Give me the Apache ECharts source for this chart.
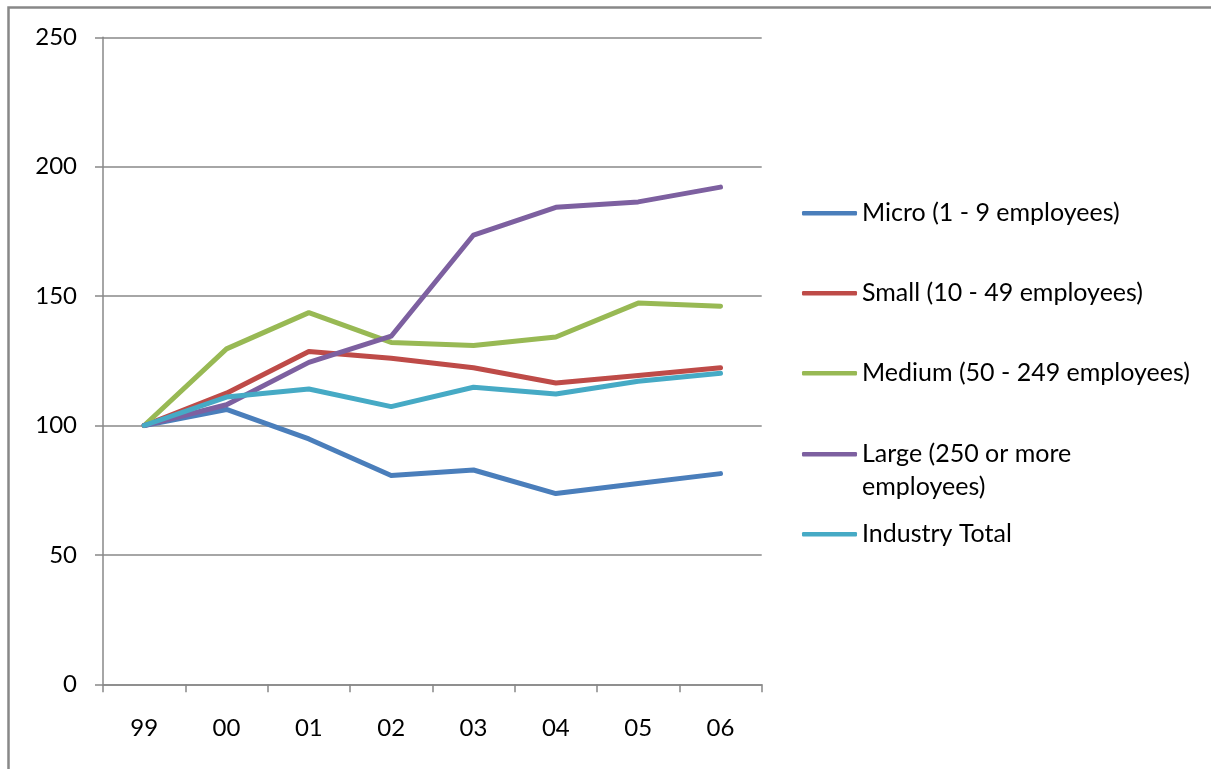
<!DOCTYPE html>
<html>
<head>
<meta charset="utf-8">
<script src="https://cdn.jsdelivr.net/npm/echarts@6/dist/echarts.min.js"></script>
<style>
  html, body { margin: 0; padding: 0; background: #fff; }
  #chart { width: 1211px; height: 769px; }
</style>
</head>
<body>
<div id="chart"></div>
<script>
// Index of activity by enterprise size band (1999 = 100)
const years = ['99', '00', '01', '02', '03', '04', '05', '06'];

const micro    = [100, 106.2, 94.8, 80.7, 82.8, 73.7, 77.6, 81.4];
const small    = [100, 112.5, 128.6, 126.0, 122.3, 116.4, 119.3, 122.3];
const medium   = [100, 129.6, 143.6, 132.1, 130.9, 134.2, 147.3, 146.1];
const large    = [100, 108.0, 124.4, 134.5, 173.6, 184.3, 186.4, 192.1];
const industry = [100, 111.0, 114.1, 107.3, 114.8, 112.2, 117.1, 120.2];

const seriesNames = [
  'Micro (1 - 9 employees)',
  'Small (10 - 49 employees)',
  'Medium (50 - 249 employees)',
  'Large (250 or more employees)',
  'Industry Total'
];
const seriesValues = [micro, small, medium, large, industry];
const colors = ['#4A7EBB', '#BE4B48', '#98B954', '#7D60A0', '#46AAC5'];

const FONT = 'Lato';
const AXIS_FONT_SIZE = 24;
const LEGEND_FONT_SIZE = 25;
const AXIS_GREY = '#888888';

// one legend block per series so each row sits at its own height;
// the wrapped label gets a leading blank line so its first line stays level with the key
const legendCenters = [213.3, 293.3, 373.3, 454.3, 534.3];
const legends = seriesNames.map((name, i) => {
  const isLarge = i === 3;
  return {
    data: [name],
    left: 802,
    top: legendCenters[i] - (isLarge ? 49.5 : 16.5),
    orient: 'vertical',
    padding: 0,
    icon: 'roundRect',
    itemWidth: 55,
    itemHeight: 4.5,
    itemGap: 0,
    selectedMode: false,
    formatter: isLarge ? (n) => '\n' + n.replace('more ', 'more\n') : '{name}',
    textStyle: {
      fontFamily: FONT,
      fontSize: LEGEND_FONT_SIZE,
      color: '#000',
      lineHeight: 33
    }
  };
});

const chart = echarts.init(document.getElementById('chart'), null, { renderer: 'canvas' });

chart.setOption({
  animation: false,
  backgroundColor: '#fff',
  color: colors,
  graphic: [{
    type: 'rect',
    shape: { x: 8.5, y: 7.5, width: 1400, height: 1000 },
    style: { fill: 'none', stroke: AXIS_GREY, lineWidth: 2.5 },
    silent: true,
    z: -10
  }],
  legend: legends,
  grid: { left: 103, top: 37.3, right: 449.3, bottom: 84.7, containLabel: false },
  xAxis: {
    type: 'category',
    data: years,
    boundaryGap: true,
    axisLine: { show: true, lineStyle: { color: AXIS_GREY, width: 1.5 } },
    axisTick: { show: true, length: 8, inside: false, lineStyle: { color: AXIS_GREY, width: 1.5 } },
    axisLabel: { fontFamily: FONT, fontSize: AXIS_FONT_SIZE, color: '#000', margin: 32 },
    splitLine: { show: false }
  },
  yAxis: {
    type: 'value',
    min: 0,
    max: 250,
    interval: 50,
    axisLine: { show: true, lineStyle: { color: AXIS_GREY, width: 1.5 } },
    axisTick: { show: true, length: 8, inside: false, lineStyle: { color: AXIS_GREY, width: 1.5 } },
    axisLabel: { fontFamily: FONT, fontSize: AXIS_FONT_SIZE, color: '#000', margin: 26 },
    splitLine: { show: true, lineStyle: { color: AXIS_GREY, width: 1.5 } }
  },
  series: seriesNames.map((name, i) => ({
    name: name,
    type: 'line',
    data: seriesValues[i],
    symbol: 'none',
    showSymbol: false,
    smooth: false,
    lineStyle: { color: colors[i], width: 5, cap: 'round', join: 'round' },
    itemStyle: { color: colors[i] },
    emphasis: { disabled: true }
  }))
});
</script>
</body>
</html>
